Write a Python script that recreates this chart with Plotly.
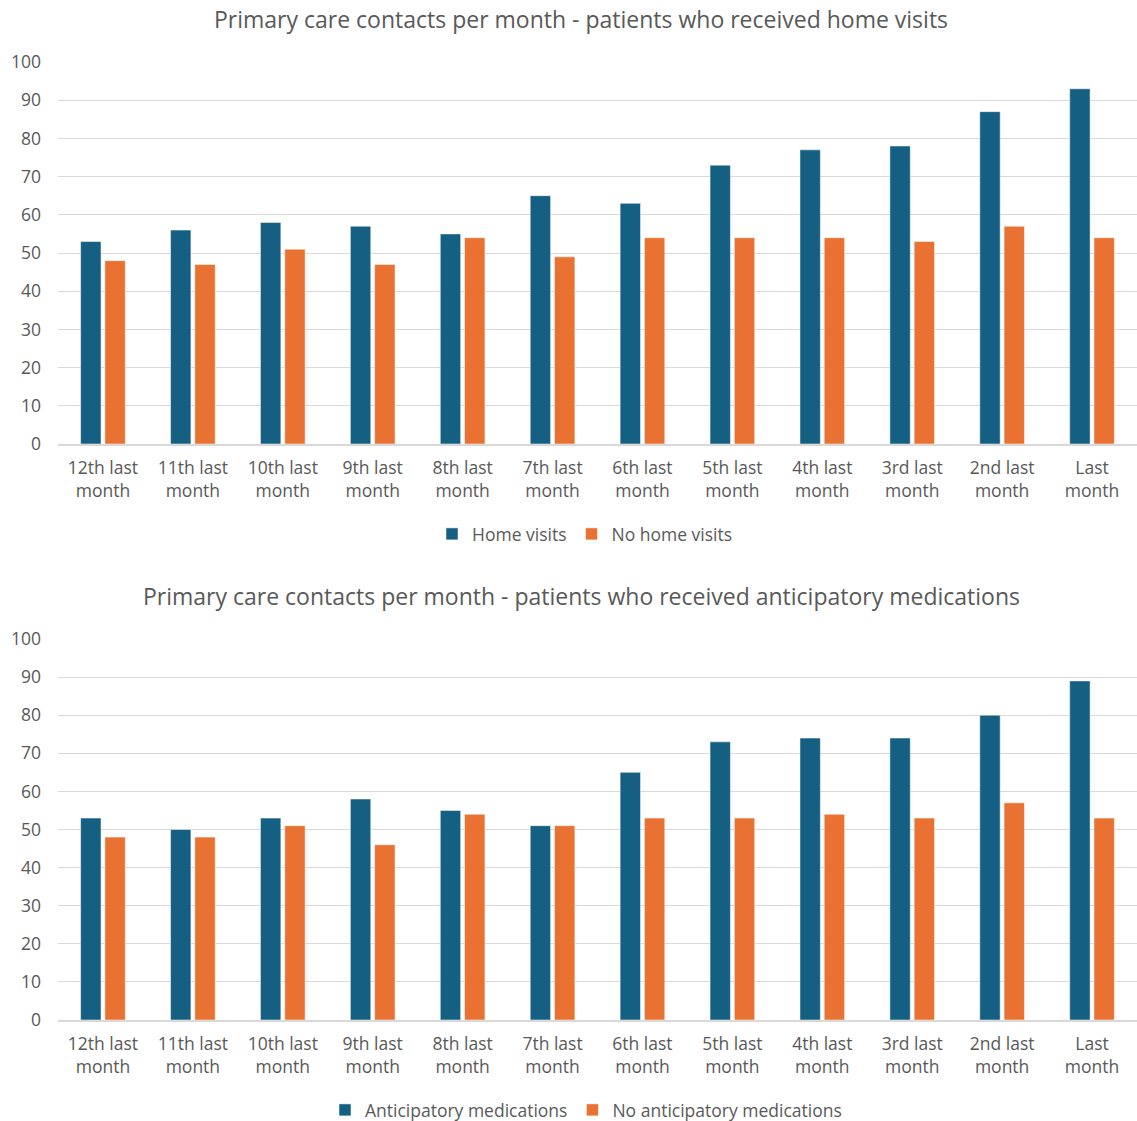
import plotly.graph_objects as go

categories = ["12th last<br>month", "11th last<br>month", "10th last<br>month", "9th last<br>month",
              "8th last<br>month", "7th last<br>month", "6th last<br>month", "5th last<br>month",
              "4th last<br>month", "3rd last<br>month", "2nd last<br>month", "Last<br>month"]

home_visits = [53, 56, 58, 57, 55, 65, 63, 73, 77, 78, 87, 93]
no_home_visits = [48, 47, 51, 47, 54, 49, 54, 54, 54, 53, 57, 54]

anticipatory = [53, 50, 53, 58, 55, 51, 65, 73, 74, 74, 80, 89]
no_anticipatory = [48, 48, 51, 46, 54, 51, 53, 53, 54, 53, 57, 53]

BLUE = "#156082"
ORANGE = "#E97132"
GREY = "#595959"
W, H = 1137, 1121
FONT = "Open Sans"

fig = go.Figure()
line = dict(color="rgba(255,255,255,0.5)", width=1)
fig.add_trace(go.Bar(x=categories, y=home_visits, name="Home visits", marker_color=BLUE,
                     marker_line=line, xaxis="x", yaxis="y", legend="legend"))
fig.add_trace(go.Bar(x=categories, y=no_home_visits, name="No home visits", marker_color=ORANGE,
                     marker_line=line, xaxis="x", yaxis="y", legend="legend"))
fig.add_trace(go.Bar(x=categories, y=anticipatory, name="Anticipatory medications", marker_color=BLUE,
                     marker_line=line, xaxis="x2", yaxis="y2", legend="legend2"))
fig.add_trace(go.Bar(x=categories, y=no_anticipatory, name="No anticipatory medications", marker_color=ORANGE,
                     marker_line=line, xaxis="x2", yaxis="y2", legend="legend2"))

xdom = [58 / W, 1.0]
ytop = [1 - 444 / H, 1 - 62 / H]
ybot = [1 - 1020 / H, 1 - 639 / H]

yax = dict(range=[0, 100], dtick=10, showgrid=True, gridcolor="#d9d9d9", gridwidth=1.3,
           zeroline=False, showline=False, ticks="", ticklabelstandoff=16, automargin=False,
           tickfont=dict(size=17.5, color=GREY, family=FONT))
xax = dict(showline=True, linecolor="#d9d9d9", linewidth=1.5, ticks="", showgrid=False,
           automargin=False, tickfont=dict(size=17.5, color=GREY, family=FONT), ticklabelstandoff=7)

fig.update_layout(
    width=W, height=H,
    margin=dict(l=0, r=0, t=0, b=0, autoexpand=False),
    paper_bgcolor="white", plot_bgcolor="white",
    barmode="group", bargap=0.46, bargroupgap=0.16,
    font=dict(family=FONT, color=GREY),
    xaxis=dict(domain=xdom, anchor="y", **xax),
    yaxis=dict(domain=ytop, anchor="x", **yax),
    xaxis2=dict(domain=xdom, anchor="y2", **xax),
    yaxis2=dict(domain=ybot, anchor="x2", **yax),
    legend=dict(orientation="h", x=585 / W, xanchor="center", y=1 - 534 / H, yanchor="middle",
                font=dict(size=17.5, color=GREY, family=FONT), itemwidth=30, traceorder="normal"),
    legend2=dict(orientation="h", x=586 / W, xanchor="center", y=1 - 1110 / H, yanchor="middle",
                 font=dict(size=17.5, color=GREY, family=FONT), itemwidth=30, traceorder="normal"),
    annotations=[
        dict(text="Primary care contacts per month - patients who received home visits",
             x=581 / W, y=1 - 19 / H, xref="paper", yref="paper", showarrow=False,
             xanchor="center", yanchor="middle", font=dict(size=23, color=GREY, family=FONT)),
        dict(text="Primary care contacts per month - patients who received anticipatory medications",
             x=581 / W, y=1 - 596 / H, xref="paper", yref="paper", showarrow=False,
             xanchor="center", yanchor="middle", font=dict(size=23, color=GREY, family=FONT)),
    ],
)

fig.write_html("out.html")
